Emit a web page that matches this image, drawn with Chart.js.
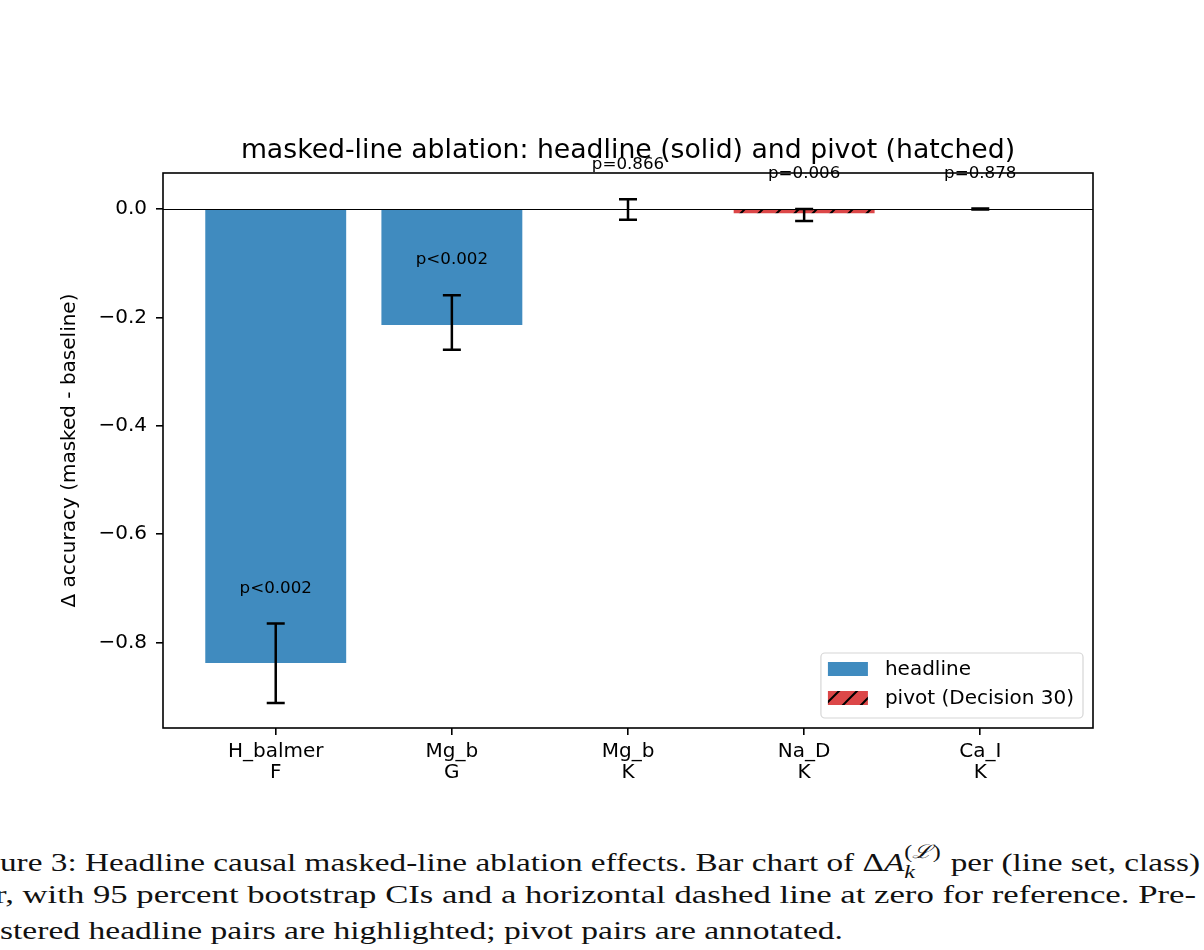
<!DOCTYPE html>
<html>
<head>
<meta charset="utf-8">
<script src="https://cdn.jsdelivr.net/npm/chart.js@4.4.1/dist/chart.umd.min.js"></script>
<style>
  html, body { margin: 0; padding: 0; background: #fff; }
  body { width: 1204px; height: 950px; position: relative; overflow: hidden; }
  #wrap { position: absolute; left: 0; top: 0; width: 1204px; height: 800px; }
  .cap { position: absolute; white-space: nowrap; font-family: "Liberation Serif", serif; font-size: 26px;
         line-height: 1; color: #111; transform-origin: 0 0; display: inline-block; }
  .ss { position: relative; display: inline-block; width: 1.15em; height: 1em; vertical-align: baseline; }
  .ss span { position: absolute; left: 0; font-size: 0.72em; line-height: 1; }
  .ss .sup { top: -0.1em; }
  .ss .sub { top: 0.95em; }
</style>
</head>
<body>
<div id="wrap"><canvas id="chart"></canvas></div>
<div class="cap" id="cap1" style="left:0;top:845px;">ure 3: Headline causal masked-line ablation effects. Bar chart of &Delta;<i>A</i><span class="ss"><span class="sup">(<i>&#x2112;</i>)</span><span class="sub"><i>k</i></span></span> per (line set, class)</div>
<div class="cap" id="cap2" style="left:-5px;top:882px;">r, with 95 percent bootstrap CIs and a horizontal dashed line at zero for reference. Pre-</div>
<div class="cap" id="cap3" style="left:0;top:918px;">stered headline pairs are highlighted; pivot pairs are annotated.</div>
<script>
document.addEventListener('DOMContentLoaded', function() {
    // data
    const lineSets = ['H_balmer', 'Mg_b', 'Mg_b', 'Na_D', 'Ca_I'];
    const classes = ['F', 'G', 'K', 'K', 'K'];
    const xPositions = [0, 1, 2, 3, 4];
    const deltaAcc = [-0.838, -0.214, -0.001, -0.008, 0.0];
    const ciLow = [-0.912, -0.260, -0.020, -0.022, -0.001];
    const ciHigh = [-0.765, -0.159, 0.018, 0.000, 0.001];
    const pLabels = ['p<0.002', 'p<0.002', 'p=0.866', 'p=0.006', 'p=0.878'];
    const groups = ['headline', 'headline', 'headline', 'pivot', 'headline'];
    const yTicks = [0.0, -0.2, -0.4, -0.6, -0.8];
    const legendLabels = ['headline', 'pivot (Decision 30)'];
    const title = 'masked-line ablation: headline (solid) and pivot (hatched)';

    const Y_MIN = -0.958, Y_MAX = 0.0665;
    const X_MIN = -0.64, X_MAX = 4.64;

    const HEADLINE = '#408bbf';
    const PIVOT = '#dc4748';
    const FONT = 'DejaVu Sans';

    const canvas = document.getElementById('chart');
    const ctx = canvas.getContext('2d');

    function hatchPattern(color) {
        const s = 18;
        const c = document.createElement('canvas');
        c.width = s; c.height = s;
        const g = c.getContext('2d');
        g.fillStyle = color;
        g.fillRect(0, 0, s, s);
        g.strokeStyle = '#000';
        g.lineWidth = 2;
        g.beginPath();
        g.moveTo(-2, s + 2); g.lineTo(s + 2, -2);
        g.moveTo(-2, 2); g.lineTo(2, -2);
        g.moveTo(s - 2, s + 2); g.lineTo(s + 2, s - 2);
        g.stroke();
        return ctx.createPattern(c, 'repeat');
    }
    const pivotFill = hatchPattern(PIVOT);
    const fills = { headline: HEADLINE, pivot: pivotFill };

    const overlay = {
        id: 'overlay',
        afterDatasetsDraw(chart) {
            const c = chart.ctx;
            const xs = chart.scales.x, ys = chart.scales.y;
            const area = chart.chartArea;
            c.save();

            // zero reference line
            const y0 = Math.round(ys.getPixelForValue(0)) + 0.5;
            c.strokeStyle = '#000';
            c.lineWidth = 1;
            c.beginPath();
            c.moveTo(area.left, y0); c.lineTo(area.right, y0);
            c.stroke();

            // error bars
            c.lineWidth = 2.5;
            xPositions.forEach((xv, i) => {
                const px = xs.getPixelForValue(xv);
                const lo = ys.getPixelForValue(ciLow[i]);
                const hi = ys.getPixelForValue(ciHigh[i]);
                c.beginPath();
                c.moveTo(px, lo); c.lineTo(px, hi);
                c.moveTo(px - 9, lo); c.lineTo(px + 9, lo);
                c.moveTo(px - 9, hi); c.lineTo(px + 9, hi);
                c.stroke();
            });

            // axes frame
            c.lineWidth = 1.6;
            c.strokeRect(area.left, area.top, area.right - area.left, area.bottom - area.top);

            // title over the axes
            c.fillStyle = '#000';
            c.textAlign = 'center';
            c.textBaseline = 'middle';
            c.font = '26.7px "' + FONT + '"';
            c.fillText(title, (area.left + area.right) / 2, area.top - 22);

            // p-value annotations
            c.font = '16.7px "' + FONT + '"';
            xPositions.forEach((xv, i) => {
                const top = Math.max(ciHigh[i], deltaAcc[i]);
                c.fillText(pLabels[i], xs.getPixelForValue(xv), ys.getPixelForValue(top) - 35);
            });

            // legend, lower right inside the axes
            c.font = '20px "' + FONT + '"';
            const textW = Math.max(...legendLabels.map(t => c.measureText(t).width));
            const w = 7 + 40 + 17 + textW + 9, h = 65;
            const lx = area.right - 10 - w, ly = area.bottom - 10 - h;
            c.beginPath();
            c.roundRect(lx, ly, w, h, 4);
            c.fillStyle = 'rgba(255,255,255,0.8)';
            c.fill();
            c.strokeStyle = '#d6d6d6';
            c.lineWidth = 1.2;
            c.stroke();
            const handles = [HEADLINE, pivotFill];
            legendLabels.forEach((t, i) => {
                const cy = ly + 16 + i * 29;
                c.fillStyle = handles[i];
                c.fillRect(lx + 7, cy - 7, 40, 14);
                c.fillStyle = '#000';
                c.textAlign = 'left';
                c.fillText(t, lx + 64, cy + 1);
            });
            c.restore();
        }
    };

    new Chart(ctx, {
        type: 'bar',
        data: {
            datasets: [{
                label: 'Δ accuracy',
                data: xPositions.map((x, i) => ({ x: x, y: deltaAcc[i] })),
                backgroundColor: groups.map(g => fills[g]),
                borderWidth: 0,
                barPercentage: 0.8,
                categoryPercentage: 1.0
            }]
        },
        options: {
            responsive: true,
            maintainAspectRatio: false,
            animation: false,
            layout: { padding: { left: 0, right: 111, top: 173, bottom: 0 } },
            plugins: {
                legend: { display: false },
                tooltip: { enabled: false },
                title: { display: false }
            },
            scales: {
                x: {
                    type: 'linear',
                    min: X_MIN,
                    max: X_MAX,
                    offset: false,
                    afterBuildTicks: s => { s.ticks = xPositions.map(v => ({ value: v })); },
                    afterFit: s => { s.height = 72; },
                    grid: { display: true, offset: false, drawOnChartArea: false, drawTicks: true, tickLength: 7, color: '#000', lineWidth: 1.6 },
                    border: { display: false },
                    ticks: {
                        color: '#000',
                        font: { family: FONT, size: 20, lineHeight: 1.05 },
                        padding: 6,
                        maxRotation: 0,
                        autoSkip: false,
                        callback: v => [lineSets[v], classes[v]]
                    }
                },
                y: {
                    min: Y_MIN,
                    max: Y_MAX,
                    afterBuildTicks: s => { s.ticks = yTicks.map(v => ({ value: v })); },
                    afterFit: s => { s.width = 163; },
                    grid: { display: true, drawOnChartArea: false, drawTicks: true, tickLength: 7, color: '#000', lineWidth: 1.6 },
                    border: { display: false },
                    ticks: {
                        color: '#000',
                        font: { family: FONT, size: 20 },
                        padding: 9,
                        callback: v => v.toFixed(1).replace('-', '\u2212')
                    },
                    title: {
                        display: true,
                        text: 'Δ accuracy (masked - baseline)',
                        color: '#000',
                        font: { family: FONT, size: 20, lineHeight: 1.2 },
                        padding: { top: 58, bottom: 0 }
                    }
                }
            }
        },
        plugins: [overlay]
    });

    // stretch caption lines to the widths they have in the figure
    function fitCaption(id, target) {
        const el = document.getElementById(id);
        const w = el.getBoundingClientRect().width;
        el.style.transform = 'scaleX(' + (target / w) + ')';
    }
    fitCaption('cap1', 1200);
    fitCaption('cap2', 1201);
    fitCaption('cap3', 843);
});
</script>
</body>
</html>
